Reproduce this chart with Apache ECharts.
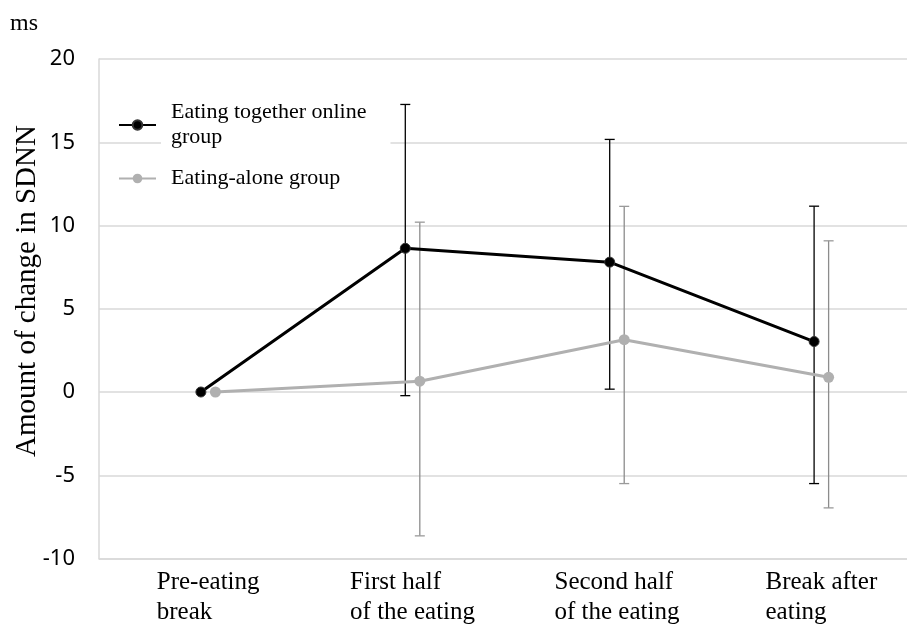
<!DOCTYPE html>
<html>
<head>
<meta charset="utf-8">
<script src="https://cdn.jsdelivr.net/npm/echarts@6/dist/echarts.min.js"></script>
<style>html,body{margin:0;padding:0;background:#fff}#c{width:907px;height:625px}</style>
</head>
<body>
<div id="c"></div>
<script>
// ---- data ----
const categories = ['Pre-eating\nbreak', 'First half\nof the eating', 'Second half\nof the eating', 'Break after\neating'];
const togetherMean = [0, 8.63, 7.8, 3.03];
const togetherLow  = [null, -0.22, 0.17, -5.5];
const togetherHigh = [null, 17.27, 15.17, 11.16];
const aloneMean = [0, 0.65, 3.14, 0.88];
const aloneLow  = [null, -8.64, -5.5, -6.96];
const aloneHigh = [null, 10.2, 11.15, 9.08];
const yTicks = [-10, -5, 0, 5, 10, 15, 20];
const seriesNames = ['Eating together online\ngroup', 'Eating-alone group'];

// ---- style ----
const OFFSET = 0.0355;
const SERIF = '"Liberation Serif", "Times New Roman", serif';
const SANS = '"Noto Sans", "Open Sans", sans-serif';

function linePts(vals, off) { return vals.map((v, i) => [i + off, v]); }
function errPts(lo, hi, off) {
  const out = [];
  lo.forEach((l, i) => { if (l !== null && hi[i] !== null) out.push([i + off, l, hi[i]]); });
  return out;
}
function errRender(color, capColor) {
  return function (params, api) {
    const x = api.value(0);
    const pLo = api.coord([x, api.value(1)]);
    const pHi = api.coord([x, api.value(2)]);
    const cap = 5;
    return {
      type: 'group',
      children: [
        { type: 'line', shape: { x1: pLo[0], y1: pLo[1], x2: pHi[0], y2: pHi[1] }, style: { stroke: color, lineWidth: 1.3 } },
        { type: 'line', shape: { x1: pLo[0] - cap, y1: pLo[1], x2: pLo[0] + cap, y2: pLo[1] }, style: { stroke: capColor, lineWidth: 1.3 } },
        { type: 'line', shape: { x1: pHi[0] - cap, y1: pHi[1], x2: pHi[0] + cap, y2: pHi[1] }, style: { stroke: capColor, lineWidth: 1.3 } }
      ]
    };
  };
}

const chart = echarts.init(document.getElementById('c'), null, { renderer: 'canvas' });
chart.setOption({
  animation: false,
  backgroundColor: '#fff',
  grid: { left: 99, top: 59, right: 0, bottom: 66, containLabel: false },
  xAxis: {
    type: 'value', min: -0.534, max: 3.419,
    axisLine: { show: true, onZero: false, lineStyle: { color: '#d9d9d9', width: 1.5 } },
    axisTick: { show: false },
    splitLine: { show: false },
    axisLabel: {
      customValues: [0, 1, 2, 3],
      margin: 9,
      formatter: function (v) {
        const c = categories[Math.round(v)];
        return c.split('\n').map(s => '{a|' + s + '}').join('\n');
      },
      rich: { a: { fontFamily: SERIF, fontSize: 25, lineHeight: 30, color: '#000', align: 'left' } }
    }
  },
  yAxis: {
    type: 'value', min: yTicks[0], max: yTicks[yTicks.length - 1], interval: 5,
    axisLine: { show: true, onZero: false, lineStyle: { color: '#d9d9d9', width: 1.5 } },
    axisTick: { show: false },
    splitLine: { show: true, lineStyle: { color: '#d9d9d9', width: 1.5 } },
    axisLabel: { fontFamily: SANS, fontSize: 22, color: '#000', margin: 24 }
  },
  legend: {
    orient: 'vertical', left: 118, top: 100, itemGap: 16, padding: 0,
    itemWidth: 37, itemHeight: 12,
    data: seriesNames,
    textStyle: { fontFamily: SERIF, fontSize: 22, lineHeight: 25, color: '#000', backgroundColor: '#fff', padding: [0, 24, 0, 10] }
  },
  graphic: [
    { type: 'text', left: 10, top: 12, style: { text: 'ms', font: '24px ' + SERIF, fill: '#000' } },
    { type: 'text', x: 27, y: 291, rotation: Math.PI / 2, style: { text: 'Amount of change in SDNN', font: '29px ' + SERIF, fill: '#000', align: 'center', verticalAlign: 'middle' } }
  ],
  series: [
    { type: 'custom', name: 'errT', data: errPts(togetherLow, togetherHigh, -OFFSET), renderItem: errRender('#000', '#000'), z: 1, silent: true },
    { type: 'custom', name: 'errA', data: errPts(aloneLow, aloneHigh, OFFSET), renderItem: errRender('#8c8c8c', '#9a9a9a'), z: 1, silent: true },
    { type: 'line', name: seriesNames[1], data: linePts(aloneMean, OFFSET), symbol: 'circle', symbolSize: 11,
      lineStyle: { color: '#b0b0b0', width: 3 }, itemStyle: { color: '#b0b0b0' }, z: 3 },
    { type: 'line', name: seriesNames[0], data: linePts(togetherMean, -OFFSET), symbol: 'circle', symbolSize: 10,
      lineStyle: { color: '#000', width: 3 }, itemStyle: { color: '#000', borderColor: '#333', borderWidth: 1 }, z: 4 }
  ]
});
</script>
</body>
</html>
